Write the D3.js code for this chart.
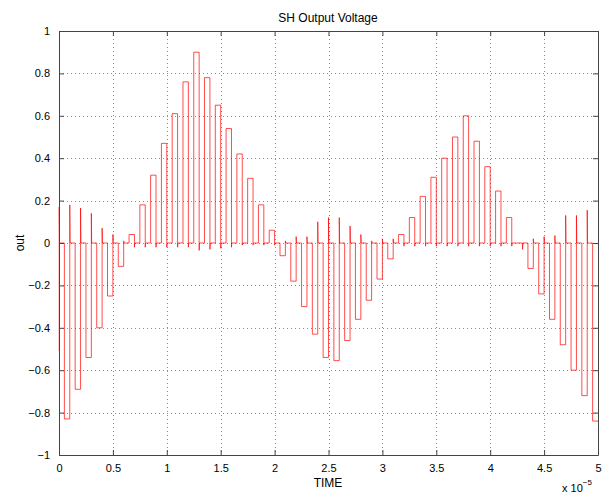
<!DOCTYPE html>
<html><head><meta charset="utf-8">
<script src="https://cdn.jsdelivr.net/npm/d3@7"></script>
<style>body{margin:0;background:#fff}svg{display:block}text{font-family:"Liberation Sans",Arial,sans-serif;fill:#000}</style>
</head><body><svg id="c" width="606" height="494"></svg>
<script>
// Sample period (s) and held values, one per period (hold in second half)
const samplePeriod = 1e-6;
const initialValue = -0.51;
const initialSpike = 0.17;
const holdValues = [-0.83,-0.69,-0.54,-0.40,-0.25,-0.11,0.04,0.18,0.32,0.47,
  0.61,0.76,0.90,0.78,0.65,0.54,0.42,0.305,0.18,0.06,
  -0.06,-0.18,-0.30,-0.43,-0.54,-0.555,-0.46,-0.36,-0.27,-0.17,
  -0.075,0.04,0.12,0.22,0.31,0.40,0.50,0.60,0.48,0.36,
  0.245,0.12,0.0,-0.12,-0.24,-0.36,-0.48,-0.60,-0.72,-0.84];
// glitch (overshoot) value at the end of each hold
const spikeValues = [0.18,0.165,0.14,0.07,0.04,0.01,-0.02,-0.02,-0.02,-0.02,
  -0.02,-0.02,-0.035,-0.03,-0.025,-0.02,-0.01,-0.01,-0.01,-0.01,
  0.01,0.03,0.03,0.10,0.12,0.12,0.08,0.04,0.01,0.02,
  0.02,-0.015,-0.015,-0.015,-0.015,-0.015,-0.015,-0.015,-0.015,-0.015,
  -0.015,-0.015,-0.03,0.02,0.03,0.035,0.13,0.13,0.155];
const xTicks = [0,0.5,1,1.5,2,2.5,3,3.5,4,4.5,5];
const yTicks = [-1,-0.8,-0.6,-0.4,-0.2,0,0.2,0.4,0.6,0.8,1];

const svg = d3.select("#c");
const L=59, R=598, T=31, B=455;
const x = d3.scaleLinear().domain([0,5e-5]).range([L,R]);
const y = d3.scaleLinear().domain([-1,1]).range([B,T]);
const fmt = v => (v<0?"\u2212":"") + String(Math.abs(v));

// grid
const grid = svg.append("g").attr("stroke","#8c8c8c").attr("stroke-width",1).attr("stroke-dasharray","1,3");
xTicks.slice(1,-1).forEach(t=>grid.append("line").attr("x1",Math.round(x(t*1e-5))+0.5).attr("x2",Math.round(x(t*1e-5))+0.5).attr("y1",T).attr("y2",B));
yTicks.slice(1,-1).forEach(t=>grid.append("line").attr("y1",Math.round(y(t))+0.5).attr("y2",Math.round(y(t))+0.5).attr("x1",L).attr("x2",R));

// waveform
const pts = [];
pts.push([0, initialValue]);
pts.push([0.02*samplePeriod, initialValue]);
pts.push([0.02*samplePeriod, initialSpike]);
pts.push([0.05*samplePeriod, 0]);
holdValues.forEach((v,k)=>{
  const tr=(k+0.5)*samplePeriod, tf=(k+1)*samplePeriod;
  pts.push([tr,0]); pts.push([tr,v]); pts.push([tf,v]);
  if(k<holdValues.length-1){
    pts.push([tf,spikeValues[k]]);
    pts.push([tf+0.03*samplePeriod,0]);
  }
});
svg.append("path").datum(pts)
  .attr("d", d3.line().x(d=>x(d[0])).y(d=>y(d[1])))
  .attr("fill","none").attr("stroke","#ff0000").attr("stroke-width",0.7);

// box axes
const ax = svg.append("g");
ax.append("g").attr("transform",`translate(0,${B})`)
  .call(d3.axisBottom(x).tickValues(xTicks.map(t=>t*1e-5)).tickFormat((d,i)=>String(xTicks[i])).tickSizeInner(-5).tickSizeOuter(0).tickPadding(9));
ax.append("g").attr("transform",`translate(0,${T})`)
  .call(d3.axisTop(x).tickValues(xTicks.map(t=>t*1e-5)).tickFormat("").tickSizeInner(-5).tickSizeOuter(0));
ax.append("g").attr("transform",`translate(${L},0)`)
  .call(d3.axisLeft(y).tickValues(yTicks).tickFormat(fmt).tickSizeInner(-5).tickSizeOuter(0).tickPadding(9));
ax.append("g").attr("transform",`translate(${R},0)`)
  .call(d3.axisRight(y).tickValues(yTicks).tickFormat("").tickSizeInner(-5).tickSizeOuter(0));
ax.selectAll(".domain").attr("stroke","#444");
ax.selectAll(".tick line").attr("stroke","#444");
ax.selectAll(".tick text").attr("font-size",11).attr("font-family","Liberation Sans, Arial, sans-serif").attr("fill","#000");

// titles
svg.append("text").attr("x",328).attr("y",22).attr("text-anchor","middle").attr("font-size",12).text("SH Output Voltage");
svg.append("text").attr("x",328).attr("y",487).attr("text-anchor","middle").attr("font-size",12).text("TIME");
svg.append("text").attr("transform","translate(24,243) rotate(-90)").attr("text-anchor","middle").attr("font-size",12).text("out");
const ex = svg.append("text").attr("x",562).attr("y",492).attr("font-size",11);
ex.append("tspan").text("x 10");
ex.append("tspan").attr("dy",-7).attr("font-size",8).text("\u22125");
</script></body></html>
